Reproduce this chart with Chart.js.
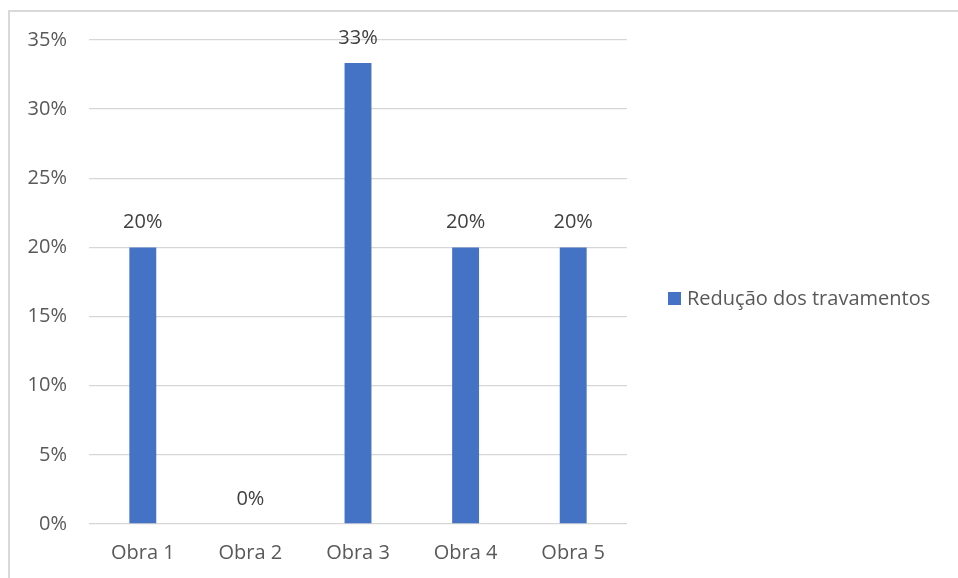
<!DOCTYPE html>
<html>
<head>
<meta charset="utf-8">
<script src="https://cdn.jsdelivr.net/npm/chart.js@4/dist/chart.umd.min.js"></script>
<style>
html,body{margin:0;padding:0;background:#fff;overflow:hidden;}
#frame{position:absolute;left:8px;top:10px;width:960px;height:580px;border:2px solid #d9d9d9;box-sizing:border-box;}
#wrap{position:absolute;left:0;top:0;width:958px;height:578px;}
</style>
</head>
<body>
<div id="frame"></div>
<div id="wrap"><canvas id="c" width="958" height="578"></canvas></div>
<script>
const categories = ["Obra 1", "Obra 2", "Obra 3", "Obra 4", "Obra 5"];
const seriesName = "Redução dos travamentos";
const values = [20, 0, 33.33, 20, 20];
const yTicks = [0, 5, 10, 15, 20, 25, 30, 35];

const FONT = "'Open Sans', 'Noto Sans', sans-serif";
const TXT = "#595959";
const BAR = "#4472C4";

const dataLabels = {
  id: 'dataLabels',
  afterDatasetsDraw(chart) {
    const ctx = chart.ctx;
    const meta = chart.getDatasetMeta(0);
    ctx.save();
    ctx.font = "20px " + FONT;
    ctx.fillStyle = "#404040";
    ctx.textAlign = "center";
    ctx.textBaseline = "middle";
    meta.data.forEach((bar, i) => {
      ctx.fillText(Math.round(values[i]) + "%", bar.x, bar.y - 25);
    });
    ctx.restore();
  }
};

const sideLegend = {
  id: 'sideLegend',
  afterDraw(chart) {
    const ctx = chart.ctx;
    const ds = chart.data.datasets[0];
    const cy = (chart.chartArea.top + chart.chartArea.bottom) / 2 + 17;
    ctx.save();
    ctx.fillStyle = ds.backgroundColor;
    ctx.fillRect(668, cy - 7, 13, 13);
    ctx.font = "20px " + FONT;
    ctx.fillStyle = TXT;
    ctx.textAlign = "left";
    ctx.textBaseline = "middle";
    ctx.fillText(ds.label, 687, cy);
    ctx.restore();
  }
};

new Chart(document.getElementById('c'), {
  type: 'bar',
  data: {
    labels: categories,
    datasets: [{
      label: seriesName,
      data: values,
      backgroundColor: BAR,
      borderWidth: 0,
      categoryPercentage: 1,
      barPercentage: 0.25
    }]
  },
  options: {
    responsive: false,
    animation: false,
    devicePixelRatio: 1,
    layout: { padding: { left: 0, top: 40, right: 331, bottom: 0 } },
    plugins: {
      legend: { display: false },
      tooltip: { enabled: false }
    },
    scales: {
      y: {
        min: 0, max: 35,
        afterBuildTicks(axis) { axis.ticks = yTicks.map(v => ({ value: v })); },
        afterFit(axis) { axis.width = 89; },
        ticks: {
          callback: v => v + '%',
          font: { family: FONT, size: 20 },
          color: TXT,
          padding: 22
        },
        grid: { color: '#d6d6d6', lineWidth: 1.3, drawTicks: false },
        border: { display: false }
      },
      x: {
        afterFit(axis) { axis.height = 54; },
        ticks: {
          font: { family: FONT, size: 20 },
          color: TXT,
          padding: 17
        },
        grid: { display: false, drawTicks: false },
        border: { display: false }
      }
    }
  },
  plugins: [dataLabels, sideLegend]
});
</script>
</body>
</html>
